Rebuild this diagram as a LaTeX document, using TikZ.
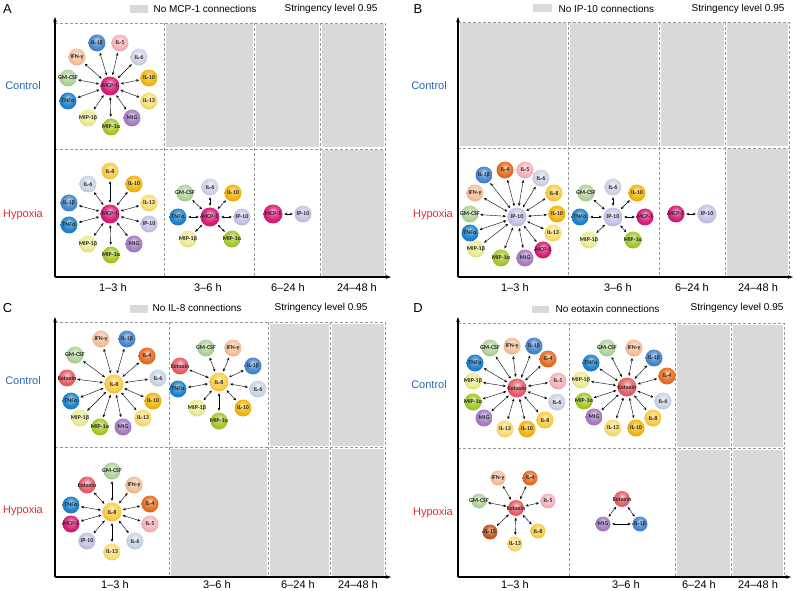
\documentclass[tikz,border=0pt]{standalone}
\usepackage{fontspec}
\setmainfont{Liberation Sans}
\newfontfamily\cytfont{Carlito}
\usetikzlibrary{arrows.meta}

\definecolor{cMCP}{RGB}{214,30,120}
\definecolor{cIP}{RGB}{196,196,232}
\definecolor{cILa}{RGB}{70,135,205}
\definecolor{cIL4}{RGB}{230,110,35}
\definecolor{cIL5}{RGB}{245,180,188}
\definecolor{cIL6}{RGB}{204,212,230}
\definecolor{cIL8}{RGB}{250,205,70}
\definecolor{cIL10}{RGB}{243,182,15}
\definecolor{cIL13}{RGB}{250,222,115}
\definecolor{cIL15}{RGB}{195,85,30}
\definecolor{cMIG}{RGB}{165,125,195}
\definecolor{cMIPa}{RGB}{165,200,45}
\definecolor{cMIPb}{RGB}{236,236,145}
\definecolor{cTNF}{RGB}{30,130,205}
\definecolor{cGM}{RGB}{176,212,155}
\definecolor{cIFN}{RGB}{245,192,155}
\definecolor{cEot}{RGB}{232,95,105}
\definecolor{ctrlblue}{RGB}{40,100,180}
\definecolor{hyxred}{RGB}{225,45,45}

% sphere look: highlight on top, rim a bit darker
\makeatletter
\pgfdeclareradialshading[tikz@ball]{sphere}{\pgfpoint{0bp}{9bp}}{%
  color(0bp)=(tikz@ball!30!white); color(10bp)=(tikz@ball!75!white);
  color(21bp)=(tikz@ball); color(32bp)=(tikz@ball!88!black);
  color(50bp)=(tikz@ball!75!black)}
\makeatother

\newcommand\cylab[1]{\makebox[0pt]{#1}}

\begin{document}
\begin{tikzpicture}[x=1pt, y=-1pt,
  cyt/.style={circle, minimum size=17pt, inner sep=0pt, ball color=#1,
              shading=sphere, text=black!85,
              font=\cytfont\bfseries\fontsize{6}{6}\selectfont},
  hub/.style={cyt=#1, minimum size=19pt},
  link/.style={{Stealth[length=3pt,width=2.6pt]}-{Stealth[length=3pt,width=2.6pt]},
               line width=0.4pt, shorten <=1.5pt, shorten >=1.5pt},
  axis/.style={-{Stealth[length=5pt,width=3.5pt]}, line width=1.3pt},
  grid/.style={densely dashed, black!40, line width=0.5pt},
  nocon/.style={fill=black!15, draw=none},
  tlab/.style={font=\fontsize{11}{11}\selectfont},
  leg/.style={font=\fontsize{10}{10}\selectfont},
  cond/.style={font=\fontsize{11}{11}\selectfont},
  letter/.style={font=\fontsize{13}{13}\selectfont},
]
\useasboundingbox (0,0) rectangle (796,591);

%% ---------------- panel A ----------------
\node[letter] (la) at (7.5,9) {A};
\node[nocon, minimum width=18pt, minimum height=8pt] (a-key) at (139,9) {};
\node[leg, anchor=west] (a-keytxt) at (150,9) {No MCP-1 connections};
\node[leg, anchor=east] (a-str) at (381,9) {Stringency level 0.95};
\foreach \xa/\xb in {164/254,254/320,320/385}
  \fill[black!15] (\xa+1.5,24.5) rectangle (\xb-1.5,147.5);
\fill[black!15] (321.5,150.5) rectangle (383.5,275.5);
\draw[grid] (55,23) -- (385,23) -- (385,277);
\foreach \x in {164,254,320} \draw[grid] (\x,23) -- (\x,277);
\draw[grid] (55,149) -- (385,149);
\draw[axis] (55,277) -- (55,17);
\draw[axis] (55,277) -- (391,277);
\node[cond, text=ctrlblue] (a-ctrl) at (23,86) {Control};
\node[cond, text=hyxred] (a-hyp) at (23,215) {Hypoxia};
\node[tlab] (a-t1) at (113,288) {1--3 h};
\node[tlab] (a-t2) at (208,288) {3--6 h};
\node[tlab] (a-t3) at (288,288) {6--24 h};
\node[tlab] (a-t4) at (357,288) {24--48 h};

% control, 1-3 h
\node[hub=cMCP] (actrl) at (110,86) {\cylab{MCP-1}};
\foreach \nm/\px/\py/\cc/\txt in {il1b/97/43/cILa/IL-1β, il5/120/43/cIL5/IL-5,
    il6/139/57/cIL6/IL-6, il10/149/78/cIL10/IL-10, il13/149/101/cIL13/IL-13,
    mig/132/118/cMIG/MIG, mip1a/111/127/cMIPa/MIP-1α, mip1b/88/118/cMIPb/MIP-1β,
    tnf/68/101/cTNF/TNFα, gm/68/78/cGM/GM-CSF, ifn/77/57/cIFN/IFN-γ}
  {\node[cyt=\cc] (actrl-\nm) at (\px,\py) {\cylab{\txt}};
   \draw[link] (actrl) -- (actrl-\nm);}
% hypoxia, 1-3 h
\node[hub=cMCP] (ahyp1) at (110,214) {\cylab{MCP-1}};
\foreach \nm/\px/\py/\cc/\txt in {il8/110/171/cIL8/IL-8, il10/134/184/cIL10/IL-10,
    il13/149/203/cIL13/IL-13, ip10/149/224/cIP/IP-10, mig/134/244/cMIG/MIG,
    mip1a/111/255/cMIPa/MIP-1α, mip1b/88/244/cMIPb/MIP-1β, tnf/69/225/cTNF/TNFα,
    il1b/69/203/cILa/IL-1β, il6/88/184/cIL6/IL-6}
  {\node[cyt=\cc] (ahyp1-\nm) at (\px,\py) {\cylab{\txt}};
   \draw[link] (ahyp1) -- (ahyp1-\nm);}
% hypoxia, 3-6 h
\node[hub=cMCP] (ahyp2) at (210,217) {\cylab{MCP-1}};
\foreach \nm/\px/\py/\cc/\txt in {gm/185/193/cGM/GM-CSF, il6/210/187/cIL6/IL-6,
    il10/233/193/cIL10/IL-10, ip10/242/217/cIP/IP-10, mip1a/232/239/cMIPa/MIP-1α,
    mip1b/188/239/cMIPb/MIP-1β, tnf/178/217/cTNF/TNFα}
  {\node[cyt=\cc] (ahyp2-\nm) at (\px,\py) {\cylab{\txt}};
   \draw[link] (ahyp2) -- (ahyp2-\nm);}
% hypoxia, 6-24 h
\node[hub=cMCP] (ahyp3) at (273,214) {\cylab{MCP-1}};
\node[cyt=cIP] (ahyp3-ip10) at (303,214) {\cylab{IP-10}};
\draw[link] (ahyp3) -- (ahyp3-ip10);

%% ---------------- panel B ----------------
\node[letter] (lb) at (418,9) {B};
\node[nocon, minimum width=19pt, minimum height=8pt] (b-key) at (542.5,8.5) {};
\node[leg, anchor=west] (b-keytxt) at (555,9) {No IP-10 connections};
\node[leg, anchor=east] (b-str) at (788,9) {Stringency level 0.95};
\foreach \xa/\xb in {458/568,568/659,659/725,725/789}
  \fill[black!15] (\xa+1.5,23.5) rectangle (\xb-1.5,146.5);
\fill[black!15] (726.5,149.5) rectangle (787.5,275.5);
\draw[grid] (458,22) -- (789,22) -- (789,277);
\foreach \x in {568,659,725} \draw[grid] (\x,22) -- (\x,277);
\draw[grid] (458,148) -- (789,148);
\draw[axis] (458,277) -- (458,17);
\draw[axis] (458,277) -- (793,277);
\node[cond, text=ctrlblue] (b-ctrl) at (429,86) {Control};
\node[cond, text=hyxred] (b-hyp) at (433,215) {Hypoxia};
\node[tlab] (b-t1) at (515,288) {1--3 h};
\node[tlab] (b-t2) at (618,288) {3--6 h};
\node[tlab] (b-t3) at (692,288) {6--24 h};
\node[tlab] (b-t4) at (758,288) {24--48 h};

% hypoxia, 1-3 h
\node[hub=cIP] (bhyp1) at (517,217) {\cylab{IP-10}};
\foreach \nm/\px/\py/\cc/\txt in {il1b/484/175/cILa/IL-1β, il4/505/170/cIL4/IL-4,
    il5/525/170/cIL5/IL-5, il6/541/178/cIL6/IL-6, il8/554/193/cIL8/IL-8,
    il10/557/214/cIL10/IL-10, il13/553/233/cIL13/IL-13, mcp1/543/250/cMCP/MCP-1,
    mig/525/258/cMIG/MIG, mip1a/501/258/cMIPa/MIP-1α, mip1b/476/249/cMIPb/MIP-1β,
    tnf/470/233/cTNF/TNFα, gm/470/214/cGM/GM-CSF, ifn/475/193/cIFN/IFN-γ}
  {\node[cyt=\cc] (bhyp1-\nm) at (\px,\py) {\cylab{\txt}};
   \draw[link] (bhyp1) -- (bhyp1-\nm);}
% hypoxia, 3-6 h
\node[hub=cIP] (bhyp2) at (613,217) {\cylab{IP-10}};
\foreach \nm/\px/\py/\cc/\txt in {gm/586/193/cGM/GM-CSF, il6/613/187/cIL6/IL-6,
    il10/637/193/cIL10/IL-10, mcp1/645/217/cMCP/MCP-1, mip1a/633/240/cMIPa/MIP-1α,
    mip1b/589/240/cMIPb/MIP-1β, tnf/580/217/cTNF/TNFα}
  {\node[cyt=\cc] (bhyp2-\nm) at (\px,\py) {\cylab{\txt}};
   \draw[link] (bhyp2) -- (bhyp2-\nm);}
% hypoxia, 6-24 h
\node[hub=cIP] (bhyp3) at (707,214) {\cylab{IP-10}};
\node[cyt=cMCP] (bhyp3-mcp1) at (676,214) {\cylab{MCP-1}};
\draw[link] (bhyp3-mcp1) -- (bhyp3);

%% ---------------- panel C ----------------
\node[letter] (lc) at (7.5,308) {C};
\node[nocon, minimum width=18pt, minimum height=8pt] (c-key) at (139,308.5) {};
\node[leg, anchor=west] (c-keytxt) at (149,308) {No IL-8 connections};
\node[leg, anchor=east] (c-str) at (371,308) {Stringency level 0.95};
\foreach \xa/\xb in {268/330,330/385}
  \fill[black!15] (\xa+1.5,323.5) rectangle (\xb-1.5,445.5);
\foreach \xa/\xb in {169/268,268/330,330/385}
  \fill[black!15] (\xa+1.5,448.5) rectangle (\xb-1.5,575.5);
\draw[grid] (55,322) -- (385,322) -- (385,577);
\foreach \x in {169,268,330} \draw[grid] (\x,322) -- (\x,577);
\draw[grid] (55,447) -- (385,447);
\draw[axis] (55,577) -- (55,317);
\draw[axis] (55,577) -- (391,577);
\node[cond, text=ctrlblue] (c-ctrl) at (23,381) {Control};
\node[cond, text=hyxred] (c-hyp) at (23,511) {Hypoxia};
\node[tlab] (c-t1) at (115,585) {1--3 h};
\node[tlab] (c-t2) at (217,585) {3--6 h};
\node[tlab] (c-t3) at (298,585) {6--24 h};
\node[tlab] (c-t4) at (358,585) {24--48 h};

% control, 1-3 h
\node[hub=cIL8] (cctrl1) at (114,384) {\cylab{IL-8}};
\foreach \nm/\px/\py/\cc/\txt in {ifn/101/339/cIFN/IFN-γ, il1b/127/339/cILa/IL-1β,
    il4/147/356/cIL4/IL-4, il6/158/378/cIL6/IL-6, il10/153/401/cIL10/IL-10,
    il13/143/418/cIL13/IL-13, mig/123/427/cMIG/MIG, mip1a/100/427/cMIPa/MIP-1α,
    mip1b/80/418/cMIPb/MIP-1β, tnf/71/401/cTNF/TNFα, eot/67/378/cEot/Eotaxin,
    gm/75/355/cGM/GM-CSF}
  {\node[cyt=\cc] (cctrl1-\nm) at (\px,\py) {\cylab{\txt}};
   \draw[link] (cctrl1) -- (cctrl1-\nm);}
% control, 3-6 h
\node[hub=cIL8] (cctrl2) at (219,382) {\cylab{IL-8}};
\foreach \nm/\px/\py/\cc/\txt in {gm/206/348/cGM/GM-CSF, ifn/233/348/cIFN/IFN-γ,
    il1b/253/366/cILa/IL-1β, il6/258/389/cIL6/IL-6, il10/243/408/cIL10/IL-10,
    mip1a/219/421/cMIPa/MIP-1α, mip1b/197/408/cMIPb/MIP-1β, tnf/178/389/cTNF/TNFα,
    eot/180/366/cEot/Eotaxin}
  {\node[cyt=\cc] (cctrl2-\nm) at (\px,\py) {\cylab{\txt}};
   \draw[link] (cctrl2) -- (cctrl2-\nm);}
% hypoxia, 1-3 h
\node[hub=cIL8] (chyp1) at (112,512) {\cylab{IL-8}};
\foreach \nm/\px/\py/\cc/\txt in {gm/112/471/cGM/GM-CSF, ifn/134/485/cIFN/IFN-γ,
    il4/150/504/cIL4/IL-4, il5/150/524/cIL5/IL-5, il6/135/541/cIL6/IL-6,
    il13/112/552/cIL13/IL-13, ip10/87/541/cIP/IP-10, mcp1/71/524/cMCP/MCP-1,
    tnf/71/505/cTNF/TNFα, eot/87/485/cEot/Eotaxin}
  {\node[cyt=\cc] (chyp1-\nm) at (\px,\py) {\cylab{\txt}};
   \draw[link] (chyp1) -- (chyp1-\nm);}

%% ---------------- panel D ----------------
\node[letter] (ld) at (418,308) {D};
\node[nocon, minimum width=17pt, minimum height=7pt] (d-key) at (540.5,309) {};
\node[leg, anchor=west] (d-keytxt) at (552,309) {No eotaxin connections};
\node[leg, anchor=east] (d-str) at (787,308) {Stringency level 0.95};
\foreach \xa/\xb in {675/731,731/784} {
  \fill[black!15] (\xa+1.5,324.5) rectangle (\xb-1.5,446.5);
  \fill[black!15] (\xa+1.5,449.5) rectangle (\xb-1.5,575.5);}
\draw[grid] (458,323) -- (784,323) -- (784,577);
\foreach \x in {569,675,731} \draw[grid] (\x,323) -- (\x,577);
\draw[grid] (458,448) -- (784,448);
\draw[axis] (458,577) -- (458,317);
\draw[axis] (458,577) -- (791,577);
\node[cond, text=ctrlblue] (d-ctrl) at (429,385) {Control};
\node[cond, text=hyxred] (d-hyp) at (433,513) {Hypoxia};
\node[tlab] (d-t1) at (515,585) {1--3 h};
\node[tlab] (d-t2) at (626,585) {3--6 h};
\node[tlab] (d-t3) at (699,585) {6--24 h};
\node[tlab] (d-t4) at (758,585) {24--48 h};

% control, 1-3 h
\node[hub=cEot] (dctrl1) at (517,388) {\cylab{Eotaxin}};
\foreach \nm/\px/\py/\cc/\txt in {gm/490/348/cGM/GM-CSF, ifn/512/346/cIFN/IFN-γ,
    il1b/534/346/cILa/IL-1β, il4/548/359/cIL4/IL-4, il5/558/381/cIL5/IL-5,
    il6/557/402/cIL6/IL-6, il8/545/420/cIL8/IL-8, il10/527/429/cIL10/IL-10,
    il13/505/429/cIL13/IL-13, mig/484/418/cMIG/MIG, mip1a/473/402/cMIPa/MIP-1α,
    mip1b/473/381/cMIPb/MIP-1β, tnf/475/363/cTNF/TNFα}
  {\node[cyt=\cc] (dctrl1-\nm) at (\px,\py) {\cylab{\txt}};
   \draw[link] (dctrl1) -- (dctrl1-\nm);}
% control, 3-6 h
\node[hub=cEot] (dctrl2) at (627,387) {\cylab{Eotaxin}};
\foreach \nm/\px/\py/\cc/\txt in {gm/607/348/cGM/GM-CSF, ifn/634/348/cIFN/IFN-γ,
    il1b/654/358/cILa/IL-1β, il4/667/376/cIL4/IL-4, il6/663/401/cIL6/IL-6,
    il8/653/418/cIL8/IL-8, il10/636/428/cIL10/IL-10, il13/613/428/cIL13/IL-13,
    mig/594/417/cMIG/MIG, mip1a/584/401/cMIPa/MIP-1α, mip1b/581/380/cMIPb/MIP-1β,
    tnf/591/363/cTNF/TNFα}
  {\node[cyt=\cc] (dctrl2-\nm) at (\px,\py) {\cylab{\txt}};
   \draw[link] (dctrl2) -- (dctrl2-\nm);}
% hypoxia, 1-3 h
\begin{scope}[cyt/.append style={minimum size=15pt}]
\node[hub=cEot, minimum size=16pt] (dhyp1) at (516,508) {\cylab{Eotaxin}};
\foreach \nm/\px/\py/\cc/\txt in {ifn/498/478/cIFN/IFN-γ, il4/530/478/cIL4/IL-4,
    il5/548/501/cIL5/IL-5, il8/538/531/cIL8/IL-8, il13/515/544/cIL13/IL-13,
    il15/490/532/cIL15/IL-15, gm/479/501/cGM/GM-CSF}
  {\node[cyt=\cc] (dhyp1-\nm) at (\px,\py) {\cylab{\txt}};
   \draw[link] (dhyp1) -- (dhyp1-\nm);}
% hypoxia, 3-6 h
\node[hub=cEot, minimum size=16pt] (dhyp2) at (622,499) {\cylab{Eotaxin}};
\node[cyt=cMIG] (dhyp2-mig) at (603,524) {\cylab{MIG}};
\node[cyt=cILa] (dhyp2-il1b) at (640,524) {\cylab{IL-1β}};
\draw[link] (dhyp2) -- (dhyp2-mig);
\draw[link] (dhyp2) -- (dhyp2-il1b);
\draw[link] (dhyp2-mig) -- (dhyp2-il1b);
\end{scope}
\end{tikzpicture}
\end{document}
